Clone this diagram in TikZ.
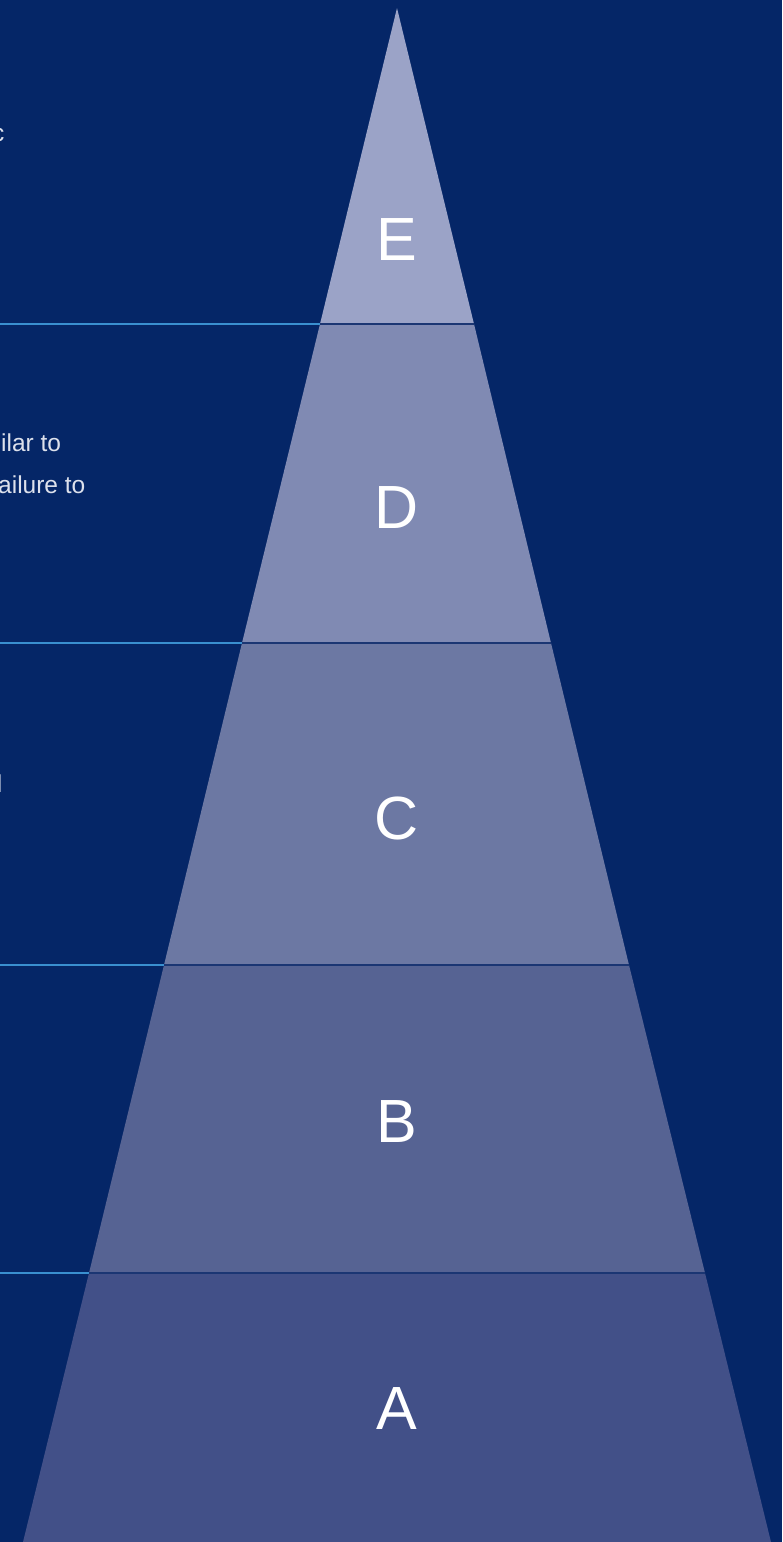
\documentclass[tikz,border=0pt]{standalone}
\usepackage{fontspec}
\setmainfont{Liberation Sans}
\usepackage{tikz}
\usetikzlibrary{positioning}
\definecolor{navy}{HTML}{052667}
\definecolor{tierA}{HTML}{425088}
\definecolor{tierB}{HTML}{566393}
\definecolor{tierC}{HTML}{6C78A3}
\definecolor{tierD}{HTML}{808AB3}
\definecolor{tierE}{HTML}{9BA3C7}
\definecolor{seamnavy}{HTML}{1B3673}
\definecolor{ruleblue}{HTML}{3A90D0}
\definecolor{notegray}{HTML}{DDE1EC}
\tikzstyle{tierlabel} = [text=white, inner sep=0pt,
    font=\fontsize{61}{61}\selectfont]
\tikzstyle{note} = [text=notegray, inner sep=0pt, anchor=base west,
    font=\fontsize{24.5}{41}\selectfont]
\tikzstyle{seam} = [line width=1.6pt, color=seamnavy]
\tikzstyle{rule} = [line width=2pt, color=ruleblue]

\begin{document}
\begin{tikzpicture}[x=1pt,y=-1pt]
\clip (0,0) rectangle (782,1542);
\fill[navy] (0,0) rectangle (782,1542);

% corners of the pyramid, top to bottom
\coordinate (top) at (397,8);
\coordinate (eL) at (320,324);  \coordinate (eR) at (474,324);
\coordinate (dL) at (242,643);  \coordinate (dR) at (551,643);
\coordinate (cL) at (164,965);  \coordinate (cR) at (629,965);
\coordinate (bL) at (89,1273);  \coordinate (bR) at (705,1273);
\coordinate (aL) at (23,1542);  \coordinate (aR) at (771,1542);

% tiers
\fill[tierE] (top) -- (eR) -- (eL) -- cycle;
\fill[tierD] (eL) -- (eR) -- (dR) -- (dL) -- cycle;
\fill[tierC] (dL) -- (dR) -- (cR) -- (cL) -- cycle;
\fill[tierB] (cL) -- (cR) -- (bR) -- (bL) -- cycle;
\fill[tierA] (bL) -- (bR) -- (aR) -- (aL) -- cycle;

% dividers
\draw[seam] (eL) -- (eR);
\draw[seam] (dL) -- (dR);
\draw[seam] (cL) -- (cR);
\draw[seam] (bL) -- (bR);

% rules out to the text column
\coordinate (eM) at (0,324);
\coordinate (dM) at (0,643);
\coordinate (cM) at (0,965);
\coordinate (bM) at (0,1273);
\draw[rule] (eM) -- (eL);
\draw[rule] (dM) -- (dL);
\draw[rule] (cM) -- (cL);
\draw[rule] (bM) -- (bL);

% tier letters
\node (lblE) [tierlabel] at (397,240) {E};
\node (lblD) [tierlabel] at (397,508) {D};
\node (lblC) [tierlabel] at (397,818) {C};
\node (lblB) [tierlabel] at (397,1122) {B};
\node (lblA) [tierlabel] at (397,1408) {A};

% text column (runs off the left edge)
\node (noteE) [note, anchor=base east] at (4.5,141) {c};
\node (noteD1) [note] at (1,451) {ilar to};
\node (noteD2) [note] at (-2,493) {ailure to};
\node (noteC) [note, anchor=base east] at (2.5,792) {l};
\end{tikzpicture}
\end{document}
